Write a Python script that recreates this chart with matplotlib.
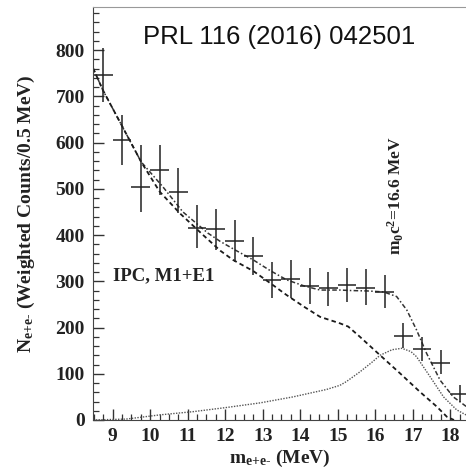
import matplotlib
matplotlib.use('Agg')
import matplotlib.pyplot as plt
import numpy as np
from matplotlib.ticker import MultipleLocator

plt.rcParams['mathtext.fontset'] = 'custom'
plt.rcParams['mathtext.rm'] = 'Liberation Serif:bold'
plt.rcParams['mathtext.it'] = 'Liberation Serif:bold'
plt.rcParams['mathtext.bf'] = 'Liberation Serif:bold'

# measured points (bin centres, 0.5 MeV bins)
mass = [8.75, 9.25, 9.75, 10.25, 10.75, 11.25, 11.75, 12.25, 12.75, 13.25, 13.75,
        14.25, 14.75, 15.25, 15.75, 16.25, 16.75, 17.25, 17.75, 18.25]
counts = [746, 605, 504, 540, 494, 416, 413, 387, 355, 303, 305,
          290, 285, 292, 286, 277, 182, 153, 124, 56]
err_up = [58, 54, 91, 55, 51, 49, 43, 45, 41, 39, 41,
          39, 36, 37, 40, 37, 28, 27, 27, 20]
err_dn = [58, 54, 54, 54, 47, 44, 45, 45, 42, 40, 41,
          40, 38, 36, 37, 34, 27, 25, 25, 16]

# sum of IPC background + signal
sum_x = [8.475, 8.74, 9.28, 9.76, 10.34, 10.87, 11.54, 11.87, 12.3, 12.75, 13.2, 13.64,
         14.1, 14.53, 15.06, 15.33, 15.8, 16.22, 16.57, 16.84, 17.1, 17.37, 17.73, 18.08, 18.43]
sum_y = [761, 713, 631, 558, 504, 450, 404, 386, 366, 346, 323, 303,
         290, 281, 281, 280, 279, 277, 267, 238, 195, 144, 86, 50, 29]

# IPC, M1+E1 background
bkg_x = [8.475, 8.74, 9.28, 9.76, 10.25, 10.79, 11.41, 11.87, 12.21, 12.75, 13.2, 13.64,
         14.1, 14.53, 15.06, 15.28, 15.59, 16.13, 16.66, 17.19, 17.64, 17.91, 18.1]
bkg_y = [761, 713, 631, 558, 494, 447, 400, 366, 346, 322, 296, 270,
         245, 223, 209, 202, 180, 140, 101, 61, 29, 7, 0]

# X17 signal
sig_x = [8.475, 9.36, 10.25, 11.14, 12.03, 12.93, 13.81, 14.70, 15.06, 15.23, 15.59,
         15.9, 16.13, 16.45, 16.71, 16.95, 17.1, 17.46, 17.82, 18.17, 18.42]
sig_y = [0, 2, 11, 18, 27, 37, 50, 66, 75, 83, 104,
         124, 140, 152, 155, 148, 137, 94, 50, 22, 11]

fig = plt.figure(figsize=(4.66, 4.75), dpi=100)
ax = fig.add_axes([93 / 466, 55 / 475, 1 - 93 / 466, 413 / 475])

ax.plot(sum_x, sum_y, color='#333333', lw=1.1, ls=(0, (3, 1.5, 1, 1.5)))
ax.plot(bkg_x, bkg_y, color='#1a1a1a', lw=1.3, ls=(0, (2.5, 1.8)))
ax.plot(sig_x, sig_y, color='#555555', lw=1.0, ls=(0, (1, 1)))

ax.errorbar(mass, counts, yerr=[err_dn, err_up], xerr=0.25, fmt='none',
            ecolor='#222222', elinewidth=1.1, capsize=0)

ax.set_xlim(8.475, 18.42)
ax.set_ylim(0, 893)

ax.xaxis.set_major_locator(MultipleLocator(1))
ax.xaxis.set_minor_locator(MultipleLocator(0.25))
ax.yaxis.set_major_locator(MultipleLocator(100))
ax.yaxis.set_minor_locator(MultipleLocator(20))
ax.tick_params(which='both', direction='in', top=False, right=False, color='#333333')
ax.tick_params(which='major', length=8, width=1.0, labelsize=14, pad=6)
ax.tick_params(which='minor', length=4.5, width=0.9)
for lab in ax.get_xticklabels() + ax.get_yticklabels():
    lab.set_fontfamily('Liberation Serif')
    lab.set_fontweight('bold')
    lab.set_color('#222222')

ax.spines['right'].set_visible(False)
ax.spines['top'].set_color('#999999')
ax.spines['left'].set_color('#444444')
ax.spines['bottom'].set_color('#444444')

ax.set_ylabel(r'N$_{\mathrm{e{+}e}\text{-}}$ (Weighted Counts/0.5 MeV)', fontsize=14,
              fontfamily='Liberation Serif', fontweight='bold', color='#222222')
ax.yaxis.set_label_coords(-56 / 373, 0.5)
ax.set_xlabel(r'm$_{\mathrm{e{+}e}\text{-}}$ (MeV)', fontsize=14,
              fontfamily='Liberation Serif', fontweight='bold', color='#222222')
ax.xaxis.set_label_coords(0.5, -0.068)

ax.text(13.45, 828, 'PRL 116 (2016) 042501', fontsize=18.5, fontfamily='Liberation Sans',
        ha='center', va='center', color='#111111')
ax.text(9.0, 311, 'IPC, M1+E1', fontsize=13.5, fontfamily='Liberation Serif',
        fontweight='bold', ha='left', va='center', color='#222222')
ax.text(16.56, 484, r'm$_{\mathrm{0}}$c$^{\mathrm{2}}$=16.6 MeV', fontsize=12.5,
        fontfamily='Liberation Serif', fontweight='bold', rotation=90,
        ha='center', va='center', color='#222222')

fig.savefig('out.png', dpi=100)
